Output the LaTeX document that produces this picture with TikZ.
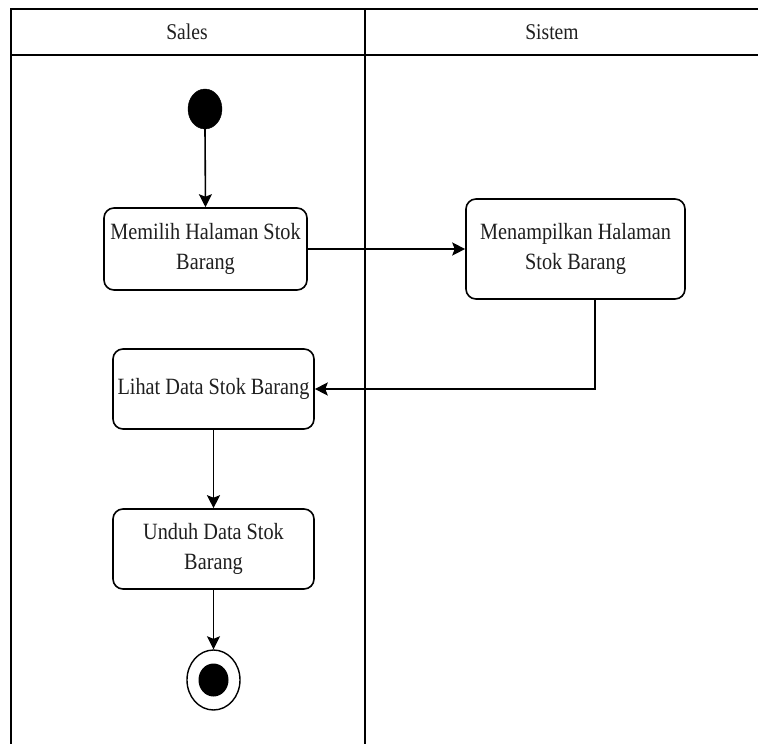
\documentclass[tikz,border=0pt]{standalone}
\usepackage{fontspec}
\newfontfamily\diagfont{Liberation Serif}[FakeStretch=0.87]
\usetikzlibrary{shapes.geometric,arrows.meta}

\tikzset{
  lane/.style={line width=1.7pt, draw=black},
  action/.style={draw=black, line width=1.6pt, rectangle, rounded corners=10pt,
    inner sep=0pt, align=center, text=black!88,
    font=\diagfont\fontsize{23.3}{30}\selectfont},
  lanetitle/.style={text=black!88, font=\diagfont\fontsize{22.5}{26}\selectfont},
  flow/.style={line width=1.6pt, -{Stealth[length=13pt,width=13pt,inset=2.5pt]}},
  startdot/.style={ellipse, fill=black, draw=black, inner sep=0pt,
    minimum width=34pt, minimum height=40pt},
}

\begin{document}
\begin{tikzpicture}[x=1pt, y=-1pt]
  \useasboundingbox (0,0) rectangle (758,744);
  \fill[white] (0,0) rectangle (758,744);

  % swimlane frame
  \coordinate (tl) at (11,9);
  \coordinate (tr) at (758,9);
  \coordinate (hl) at (11,55);
  \coordinate (hr) at (758,55);
  \coordinate (bl) at (11,744);
  \coordinate (mt) at (365,9);
  \coordinate (mb) at (365,744);
  \draw[lane] (tr) -- (tl) -- (bl);
  \draw[lane] (hl) -- (hr);
  \draw[lane] (mt) -- (mb);

  \node[lanetitle] (salesT) at (187,32) {Sales};
  \node[lanetitle] (sistemT) at (552,32) {Sistem};

  % activities
  \node[startdot] (start) at (205,109) {};
  \node[action, minimum width=203pt, minimum height=82pt] (pilih) at (205.5,249)
    {Memilih Halaman Stok\\Barang};
  \node[action, minimum width=219pt, minimum height=100pt] (tampil) at (575.5,249)
    {Menampilkan Halaman\\Stok Barang};
  \node[action, minimum width=201pt, minimum height=80pt] (lihat) at (213.5,389)
    {Lihat Data Stok Barang};
  \node[action, minimum width=201pt, minimum height=80pt] (unduh) at (213.5,549)
    {Unduh Data Stok\\Barang};

  % final state
  \node[ellipse, draw=black, line width=1.4pt, fill=white, inner sep=0pt,
    minimum width=53pt, minimum height=60pt] (end) at (213.5,680) {};
  \node[ellipse, fill=black, inner sep=0pt,
    minimum width=30pt, minimum height=33pt] (endDot) at (end.center) {};

  % transitions
  \draw[flow] (start.south) -- (pilih.north);
  \draw[flow] (pilih.east) -- (tampil.west);
  \coordinate (turn) at ([xshift=19.5pt]tampil.south);
  \draw[flow] (turn) |- (lihat.east);
  \draw[flow] (lihat.south) -- (unduh.north);
  \draw[flow] (unduh.south) -- (end.north);
\end{tikzpicture}
\end{document}
